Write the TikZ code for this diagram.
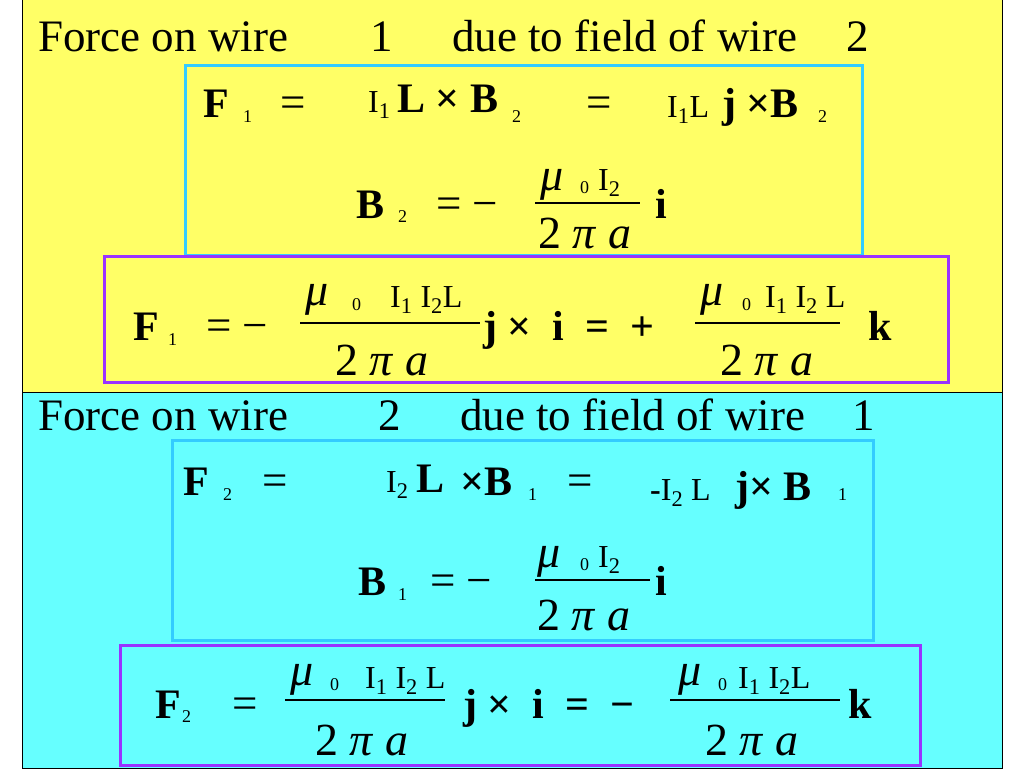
\documentclass[tikz,border=0pt]{standalone}
\usepackage{fontspec}
\setmainfont{Liberation Serif}
\usetikzlibrary{positioning}
\definecolor{slideyellow}{RGB}{255,255,102}
\definecolor{slidecyan}{RGB}{102,255,255}
\definecolor{boxblue}{RGB}{51,204,255}
\definecolor{boxpurple}{RGB}{153,51,255}
\tikzset{
  txt/.style={anchor=base west,inner sep=0pt,font=\fontsize{45}{48}\selectfont},
  bld/.style={txt,font=\fontsize{42}{46}\selectfont\bfseries},
  sml/.style={anchor=base west,inner sep=0pt,font=\fontsize{18}{20}\selectfont},
  mid/.style={anchor=base west,inner sep=0pt,font=\fontsize{32}{34}\selectfont},
  big/.style={anchor=base west,inner sep=0pt,font=\fontsize{46}{50}\selectfont},
  bar/.style={line width=2pt}
}
\newcommand{\muu}{\textit{μ}}
\newcommand{\den}{2 \textit{π} \textit{a}}
\begin{document}
\begin{tikzpicture}[x=1pt,y=-1pt]
\useasboundingbox (0,0) rectangle (1024,768);
\fill[white] (0,0) rectangle (1024,768);
\draw[fill=slideyellow,line width=1pt] (22,0) rectangle (1002,392);
\draw[fill=slidecyan,line width=1pt] (22,392) rectangle (1002,768);
\draw[boxblue,line width=3pt] (185,65) rectangle (862,255);
\draw[boxpurple,line width=3pt] (104,256) rectangle (948,382);
\draw[boxblue,line width=3pt] (172,440) rectangle (873,640);
\draw[boxpurple,line width=3pt] (120,645) rectangle (920,765);

% wire 1
\node[txt] (titleA) at (38,52) {Force on wire};
\node[txt] (wA) at (370,52) {1};
\node[txt] (dueA) at (452,52) {due to field of wire};
\node[txt] (wB) at (846,52) {2};

\node[bld] (Fa) at (203,117) {F};
\node[sml] (Fas) at (243,122) {1};
\node[txt] (eqa) at (280,117) {=};
\node[mid] (Ia) at (368,112) {I\textsubscript{1}};
\node[bld] (LBa) at (397,112) {L × B};
\node[sml] (Bas) at (512,122) {2};
\node[txt] (eqb) at (586,117) {=};
\node[mid] (ILa) at (667,117) {I\textsubscript{1}L};
\node[bld] (jBa) at (722,117) {j ×B};
\node[sml] (jBas) at (818,122) {2};

\node[bld] (Ba) at (356,218) {B};
\node[sml] (Bbs) at (398,222) {2};
\node[txt] (eqc) at (436,218) {= −};
\node[big] (nuA) at (540,190) {\muu};
\node[sml] (nuAz) at (580,193) {0};
\node[mid] (nuAi) at (598,190) {I\textsubscript{2}};
\node[big] (deA) at (538,248) {\den};
\draw[bar] (535,203) -- (640,203);
\node[bld] (ia) at (655,218) {i};

\node[bld] (Fb) at (133,340) {F};
\node[sml] (Fbs) at (168,345) {1};
\node[txt] (eqd) at (206,340) {= −};
\node[big] (nuB) at (305,305) {\muu};
\node[sml] (nuBz) at (352,310) {0};
\node[mid] (nuBi) at (390,307) {I\textsubscript{1} I\textsubscript{2}L};
\node[big] (deB) at (335,375) {\den};
\draw[bar] (300,323) -- (480,323);
\node[bld] (jib) at (483,340) {j × \ i \ = \ +};
\node[big] (nuC) at (700,305) {\muu};
\node[sml] (nuCz) at (742,310) {0};
\node[mid] (nuCi) at (765,307) {I\textsubscript{1} I\textsubscript{2} L};
\node[big] (deC) at (720,375) {\den};
\draw[bar] (695,323) -- (840,323);
\node[bld] (kb) at (868,340) {k};

% wire 2
\node[txt] (titleB) at (38,430) {Force on wire};
\node[txt] (wC) at (378,430) {2};
\node[txt] (dueB) at (460,430) {due to field of wire};
\node[txt] (wD) at (852,430) {1};

\node[bld] (Fc) at (183,495) {F};
\node[sml] (Fcs) at (223,500) {2};
\node[txt] (eqe) at (262,495) {=};
\node[mid] (Ic) at (386,492) {I\textsubscript{2}};
\node[bld] (Lc) at (416,492) {L};
\node[bld] (Bc) at (460,495) {×B};
\node[sml] (Bcs) at (528,500) {1};
\node[txt] (eqf) at (567,495) {=};
\node[mid] (ILc) at (650,500) {\textbf{-}I\textsubscript{2} L};
\node[bld] (jBc) at (735,500) {j× B};
\node[sml] (jBcs) at (838,500) {1};

\node[bld] (Bd) at (358,595) {B};
\node[sml] (Bds) at (398,600) {1};
\node[txt] (eqg) at (430,595) {= −};
\node[big] (nuD) at (537,567) {\muu};
\node[sml] (nuDz) at (580,570) {0};
\node[mid] (nuDi) at (598,567) {I\textsubscript{2}};
\node[big] (deD) at (537,630) {\den};
\draw[bar] (535,580) -- (650,580);
\node[bld] (id) at (655,595) {i};

\node[bld] (Fe) at (155,718) {F};
\node[sml] (Fes) at (182,722) {2};
\node[txt] (eqh) at (232,718) {=};
\node[big] (nuE) at (290,685) {\muu};
\node[sml] (nuEz) at (330,690) {0};
\node[mid] (nuEi) at (365,688) {I\textsubscript{1} I\textsubscript{2} L};
\node[big] (deE) at (315,755) {\den};
\draw[bar] (285,700) -- (445,700);
\node[bld] (jie) at (463,718) {j × \ i \ = \ −};
\node[big] (nuF) at (678,685) {\muu};
\node[sml] (nuFz) at (718,690) {0};
\node[mid] (nuFi) at (738,688) {I\textsubscript{1} I\textsubscript{2}L};
\node[big] (deF) at (705,755) {\den};
\draw[bar] (670,700) -- (840,700);
\node[bld] (ke) at (848,718) {k};
\end{tikzpicture}
\end{document}
